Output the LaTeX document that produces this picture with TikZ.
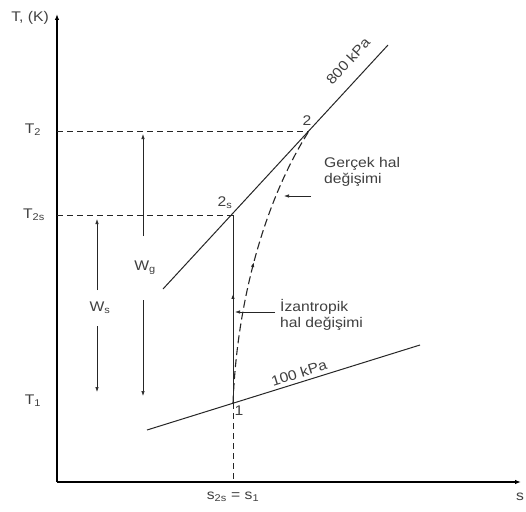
\documentclass[tikz,border=0pt]{standalone}
\usepackage{fontspec}
\setmainfont[FakeStretch=1.12]{Liberation Sans}
\usetikzlibrary{arrows.meta,decorations.markings}
\definecolor{txt}{HTML}{404040}
\definecolor{ln}{HTML}{262626}
\newcommand{\sbs}[1]{\textsubscript{#1}}
\tikzset{
  axis/.style={line width=1.4pt, draw=black, -{Latex[length=6pt,width=4.5pt]}},
  guide/.style={draw=ln, line width=0.8pt, dash pattern=on 6pt off 4pt},
  isobar/.style={draw=ln, line width=1pt},
  proc/.style={draw=ln, line width=1pt},
  real/.style={draw=ln, line width=1.1pt, dash pattern=on 8pt off 4pt},
  warrow/.style={draw=ln, line width=0.7pt, -{Latex[length=5pt,width=3.5pt]}},
  lab/.style={text=txt, font=\fontsize{14}{16}\selectfont, inner sep=0pt},
  midup/.style={postaction={decorate}, decoration={markings, mark=at position #1 with {\arrow{Latex[length=5pt,width=3.5pt]}}}}
}
\begin{document}
\begin{tikzpicture}[x=1pt,y=-1pt]
\useasboundingbox[fill=white] (0,0) rectangle (526,511);
% axes
\coordinate (O) at (57,482);
\coordinate (Ty) at (57,14);
\coordinate (Sx) at (521,482);
\draw[axis] (O) -- (Ty);
\draw[axis] (O) -- (Sx);
% state points
\coordinate (p1) at (233,403);
\coordinate (p2s) at (233,215);
\coordinate (p2) at (309,131);
\coordinate (y2) at (57,131);
\coordinate (y2s) at (57,215);
\coordinate (xs) at (233,482);
% isobars
\coordinate (a8) at (163,289);
\coordinate (b8) at (388,45);
\coordinate (a1) at (147,430);
\coordinate (b1) at (420,345);
\draw[isobar] (a8) -- (b8);
\draw[isobar] (a1) -- (b1);
% guides
\draw[guide] (y2) -- (p2);
\draw[guide] (y2s) -- (p2s);
\draw[guide] (p1) -- (xs);
% isentropic process
\draw[proc, midup=0.58] (p1) -- (p2s);
% real process
\draw[real, midup=0.5] (p1) .. controls (237,300) and (265,200) .. (p2);
% W arrows
\coordinate (wg1) at (143,134);
\coordinate (wg2) at (143,236);
\coordinate (wg3) at (143,300);
\coordinate (wg4) at (143,396);
\draw[warrow] (wg2) -- (wg1);
\draw[warrow] (wg3) -- (wg4);
\coordinate (ws1) at (97,219);
\coordinate (ws2) at (97,290);
\coordinate (ws3) at (97,326);
\coordinate (ws4) at (97,392);
\draw[warrow] (ws2) -- (ws1);
\draw[warrow] (ws3) -- (ws4);
\node[lab] (wg) at (145,268) {W\sbs{g}};
\node[lab] (ws) at (100,308) {W\sbs{s}};
% pointer arrows
\coordinate (g0) at (311,196);
\coordinate (g1) at (284,196);
\draw[warrow] (g0) -- (g1);
\coordinate (i0) at (275,312);
\coordinate (i1) at (235,312);
\draw[warrow] (i0) -- (i1);
% labels
\node[lab, anchor=west, align=left] (gl) at (324,172) {Gerçek hal\\değişimi};
\node[lab, anchor=west, align=left] (il) at (280,315) {İzantropik\\hal değişimi};
\node[lab, rotate=17.4] (k1) at (299,373) {100 kPa};
\node[lab, rotate=47.7] (k8) at (348,61) {800 kPa};
\node[lab] (n2) at (307,121) {2};
\node[lab] (n2s) at (225,203) {2\sbs{s}};
\node[lab] (n1) at (239,411) {1};
\node[lab] (tk) at (30,18) {T, (K)};
\node[lab] (t2) at (33,130) {T\sbs{2}};
\node[lab] (t2s) at (34,215) {T\sbs{2s}};
\node[lab] (t1) at (33,401) {T\sbs{1}};
\node[lab] (sx) at (233,497) {s\sbs{2s} = s\sbs{1}};
\node[lab, anchor=west] (s) at (516,497) {s};
\end{tikzpicture}
\end{document}
